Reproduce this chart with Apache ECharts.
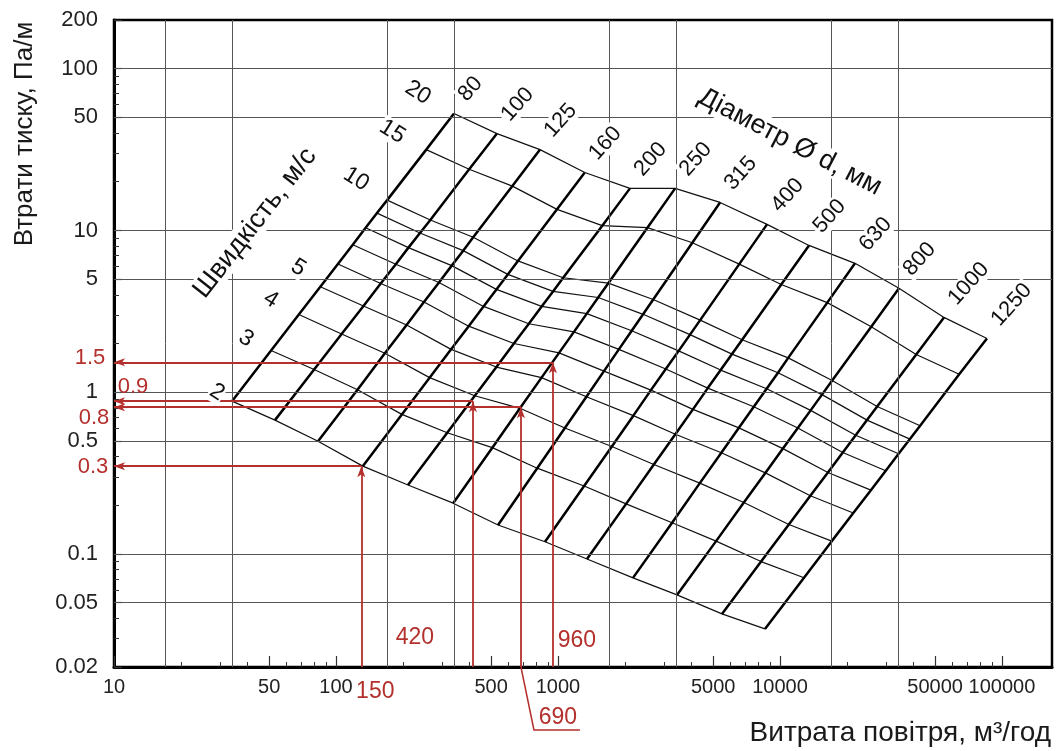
<!DOCTYPE html>
<html>
<head>
<meta charset="utf-8">
<title>Втрати тиску в повітроводах</title>
<script src="https://cdn.jsdelivr.net/npm/echarts@6/dist/echarts.min.js"></script>
<style>
  html, body { margin: 0; padding: 0; background: #fff; }
  #chart { width: 1062px; height: 751px; }
</style>
</head>
<body>
<div id="chart"></div>
<script>
// duct diameters, mm
const diameters = [80, 100, 125, 160, 200, 250, 315, 400, 500, 630, 800, 1000, 1250];
// air velocities, m/s (2 = lower edge, 20 = upper edge of the nomogram)
const velocities = [2, 3, 4, 5, 6, 7, 8, 9, 10, 15, 20];
const velocityLabels = [2, 3, 4, 5, 10, 15, 20];

// air flow, m3/h : one row per diameter, one column per velocity
const flow = [
  [34, 51, 68, 85, 102, 119, 136, 153, 170, 255, 340],
  [53.1, 79.7, 106, 133, 159, 186, 212, 239, 266, 398, 531],
  [83, 125, 166, 208, 249, 291, 332, 374, 415, 623, 830],
  [132, 198, 264, 330, 396, 462, 528, 594, 660, 990, 1320],
  [211, 317, 422, 528, 633, 739, 844, 950, 1055, 1583, 2110],
  [337, 506, 674, 843, 1011, 1180, 1348, 1517, 1685, 2528, 3370],
  [537, 806, 1074, 1343, 1611, 1880, 2148, 2417, 2685, 4028, 5370],
  [874, 1311, 1748, 2185, 2622, 3059, 3496, 3933, 4370, 6555, 8740],
  [1351, 2027, 2702, 3378, 4053, 4729, 5404, 6080, 6755, 10130, 13510],
  [2177, 3266, 4354, 5443, 6531, 7620, 8708, 9797, 10890, 16330, 21770],
  [3436, 5154, 6872, 8590, 10310, 12030, 13740, 15460, 17180, 25770, 34360],
  [5479, 8219, 10960, 13700, 16440, 19180, 21920, 24660, 27400, 41090, 54790],
  [8556, 12830, 17110, 21390, 25670, 29950, 34220, 38500, 42780, 64170, 85560]
];
// pressure loss, Pa/m : same layout as flow
const loss = [
  [0.88, 1.81, 3.02, 4.49, 6.20, 8.16, 10.4, 12.8, 15.4, 31.6, 52.8],
  [0.672, 1.38, 2.29, 3.41, 4.70, 6.18, 7.83, 9.65, 11.6, 23.9, 39.7],
  [0.498, 1.035, 1.74, 2.60, 3.61, 4.77, 6.06, 7.50, 9.07, 18.8, 31.6],
  [0.349, 0.729, 1.23, 1.84, 2.56, 3.39, 4.32, 5.35, 6.48, 13.5, 22.8],
  [0.267, 0.561, 0.950, 1.43, 2.00, 2.65, 3.39, 4.20, 5.10, 10.7, 18.2],
  [0.206, 0.454, 0.795, 1.23, 1.75, 2.36, 3.06, 3.85, 4.72, 10.4, 18.2],
  [0.151, 0.339, 0.601, 0.938, 1.35, 1.84, 2.40, 3.03, 3.74, 8.39, 14.9],
  [0.119, 0.263, 0.462, 0.716, 1.03, 1.39, 1.80, 2.27, 2.79, 6.19, 10.9],
  [0.0931, 0.204, 0.357, 0.550, 0.783, 1.06, 1.37, 1.72, 2.11, 4.63, 8.08],
  [0.0711, 0.156, 0.274, 0.422, 0.602, 0.813, 1.05, 1.32, 1.63, 3.58, 6.26],
  [0.0558, 0.120, 0.208, 0.317, 0.448, 0.600, 0.772, 0.966, 1.18, 2.54, 4.39],
  [0.0426, 0.0897, 0.152, 0.229, 0.319, 0.424, 0.542, 0.672, 0.815, 1.71, 2.90],
  [0.0344, 0.0713, 0.120, 0.179, 0.248, 0.327, 0.416, 0.513, 0.620, 1.29, 2.15]
];

// axes
const FLOW_MIN = 10, FLOW_MAX = 168000;
const LOSS_MIN = 0.02, LOSS_MAX = 200;
const flowLabels = [10, 50, 100, 500, 1000, 5000, 10000, 50000, 100000];
const lossLabels = [0.02, 0.05, 0.1, 0.5, 1, 5, 10, 50, 100, 200];
const flowGrid = [17, 34, 170, 340, 1700, 3400, 17000, 34000];
const lossGrid = [0.05, 0.1, 0.5, 1, 5, 10, 50, 100];

// worked examples (red)
const exampleFlow = [130, 414, 681, 949];
const exampleLoss = [0.349, 0.88, 0.808, 1.53];
const exampleFlowText = ['150', '420', '690', '960'];
const exampleLossText = ['0.3', '0.9', '0.8', '1.5'];

// label placement (px, relative to the point they belong to)
const velLabelShift = [[-15, -9], [-25, -12], [-28, -15], [-22, -19], [-31, -21], [-34, -18], [-36, -21]];
const flowTextShift = [[14, 25], [-58, -29], [37, 51], [24, -26]];
const lossTextShift = [[-21, 1], [19, -14], [-20, 11], [-24, -4]];
const leader690 = [[0, 0], [13, 63], [59, 63]];

const FONT = '"Liberation Sans", Arial, sans-serif';
const RED = '#b3302c';
const deg = Math.PI / 180;

const minorTicks = (lo, hi) => {
  const out = [];
  for (let p = 0.01; p <= 1e5; p *= 10) {
    for (let m = 1; m <= 9; m++) {
      const v = +(m * p).toPrecision(3);
      if (v >= lo && v <= hi) out.push(v);
    }
  }
  return out;
};
const fmt = v => String(+(+v).toPrecision(3));

const txt = (x, y, text, rot, extra) => ({
  type: 'text', x: x, y: y, rotation: rot * deg,
  style: Object.assign({
    text: text, align: 'center', verticalAlign: 'middle',
    fill: '#111', fontSize: 22, fontFamily: FONT
  }, extra)
});

const series = [];

// background grid
series.push({
  type: 'line', data: [], silent: true, z: 1,
  markLine: {
    silent: true, symbol: 'none', animation: false,
    label: { show: false },
    lineStyle: { color: '#555', width: 1, type: 'solid' },
    emphasis: { disabled: true },
    data: flowGrid.map(v => ({ xAxis: v })).concat(lossGrid.map(v => ({ yAxis: v })))
  }
});

// velocity lines
velocities.forEach((v, k) => {
  series.push({
    type: 'line', name: v + ' м/с', silent: true, z: 2, symbol: 'none',
    lineStyle: { color: '#111', width: 1.2 },
    data: diameters.map((d, i) => [flow[i][k], loss[i][k]])
  });
});

// diameter lines
diameters.forEach((d, i) => {
  series.push({
    type: 'line', name: 'Ø' + d, silent: true, z: 3, symbol: 'none',
    lineStyle: { color: '#000', width: 2.5 },
    data: flow[i].map((q, k) => [q, loss[i][k]])
  });
});

// red example arrows
series.push({
  type: 'line', data: [], silent: true, z: 5, clip: false,
  markLine: {
    silent: true, animation: false,
    symbol: ['none', 'arrow'], symbolSize: [6, 11],
    label: { show: false },
    lineStyle: { color: RED, width: 1.8, type: 'solid' },
    emphasis: { disabled: true },
    data: exampleFlow.flatMap((q, i) => [
      [{ coord: [q, LOSS_MIN] }, { coord: [q, exampleLoss[i]] }],
      [{ coord: [q, exampleLoss[i]] }, { coord: [FLOW_MIN, exampleLoss[i]] }]
    ])
  }
});

// diameter labels at the upper end of each line
series.push({
  type: 'custom', silent: true, z: 6,
  data: diameters.map((d, i) => [flow[i][10], loss[i][10]]),
  renderItem: (params, api) => {
    const p = api.coord([api.value(0), api.value(1)]);
    return txt(p[0] + 7, p[1] - 14, String(diameters[params.dataIndex]), 48,
      { align: 'left', backgroundColor: '#fff', padding: [0, 2] });
  }
});

// velocity labels along the 80 mm line
series.push({
  type: 'custom', silent: true, z: 6,
  data: velocityLabels.map(v => {
    const k = velocities.indexOf(v);
    return [flow[0][k], loss[0][k]];
  }),
  renderItem: (params, api) => {
    const p = api.coord([api.value(0), api.value(1)]);
    const s = velLabelShift[params.dataIndex];
    return txt(p[0] + s[0], p[1] + s[1], String(velocityLabels[params.dataIndex]), -32,
      { fontSize: 23, backgroundColor: '#fff', padding: [0, 1] });
  }
});

// red flow values under the arrows
series.push({
  type: 'custom', silent: true, z: 7,
  data: exampleFlow.map(q => [q, LOSS_MIN]),
  renderItem: (params, api) => {
    const i = params.dataIndex;
    const p = api.coord([api.value(0), api.value(1)]);
    const s = flowTextShift[i];
    const children = [txt(p[0] + s[0], p[1] + s[1], exampleFlowText[i], 0,
      { fill: RED, fontSize: 23 })];
    if (exampleFlowText[i] === '690') {
      children.push({
        type: 'polyline',
        shape: { points: leader690.map(o => [p[0] + o[0], p[1] + o[1]]) },
        style: { stroke: RED, lineWidth: 1.5, fill: null }
      });
    }
    return { type: 'group', children: children };
  }
});

// red loss values at the y axis
series.push({
  type: 'custom', silent: true, z: 7,
  data: exampleLoss.map(r => [FLOW_MIN, r]),
  renderItem: (params, api) => {
    const i = params.dataIndex;
    const p = api.coord([api.value(0), api.value(1)]);
    const s = lossTextShift[i];
    return txt(p[0] + s[0], p[1] + s[1], exampleLossText[i], 0, { fill: RED, fontSize: 22 });
  }
});

const option = {
  animation: false,
  backgroundColor: '#fff',
  grid: {
    left: 114, right: 10, top: 20, bottom: 84,
    show: true, borderColor: '#000', borderWidth: 2.5,
    outerBoundsMode: 'none'
  },
  xAxis: [
    {
      type: 'log', logBase: 10, min: FLOW_MIN, max: FLOW_MAX,
      axisLine: { lineStyle: { color: '#000', width: 3 } },
      axisTick: { inside: true, length: 5, customValues: minorTicks(FLOW_MIN, 100000), lineStyle: { color: '#333', width: 1 } },
      axisLabel: { customValues: flowLabels, formatter: fmt, fontSize: 20, color: '#222', margin: 10, fontFamily: FONT },
      splitLine: { show: false }
    },
    {
      type: 'log', logBase: 10, min: FLOW_MIN, max: FLOW_MAX, position: 'bottom', offset: 0,
      axisLine: { show: false },
      axisTick: { inside: true, length: 11, customValues: flowLabels, lineStyle: { color: '#333', width: 1.2 } },
      axisLabel: { show: false },
      splitLine: { show: false }
    }
  ],
  yAxis: [
    {
      type: 'log', logBase: 10, min: LOSS_MIN, max: LOSS_MAX,
      axisLine: { lineStyle: { color: '#000', width: 3 } },
      axisTick: { inside: true, length: 5, customValues: minorTicks(LOSS_MIN, LOSS_MAX), lineStyle: { color: '#333', width: 1 } },
      axisLabel: { customValues: lossLabels, formatter: fmt, fontSize: 22, color: '#222', margin: 16, fontFamily: FONT },
      splitLine: { show: false }
    },
    {
      type: 'log', logBase: 10, min: LOSS_MIN, max: LOSS_MAX, position: 'left', offset: 0,
      axisLine: { show: false },
      axisTick: { inside: true, length: 8, customValues: lossLabels, lineStyle: { color: '#333', width: 1.2 } },
      axisLabel: { show: false },
      splitLine: { show: false }
    }
  ],
  graphic: [
    Object.assign(txt(25, 134, 'Втрати тиску, Па/м', 90, { fontSize: 26, fill: '#1a1a1a' }), { z: 100 }),
    Object.assign(txt(1051, 733, 'Витрата повітря, м³/год', 0, { fontSize: 28, fill: '#1a1a1a', align: 'right' }), { z: 100 }),
    Object.assign(txt(255, 223, 'Швидкість, м/с', 52, { fontSize: 27, backgroundColor: '#fff', padding: [0, 3] }), { z: 100 }),
    Object.assign(txt(790, 142, 'Діаметр Ø d, мм', -27.5, { fontSize: 27, backgroundColor: '#fff', padding: [0, 3] }), { z: 100 })
  ],
  series: series
};

const chart = echarts.init(document.getElementById('chart'));
chart.setOption(option);
window.addEventListener('resize', () => chart.resize());
</script>
</body>
</html>
